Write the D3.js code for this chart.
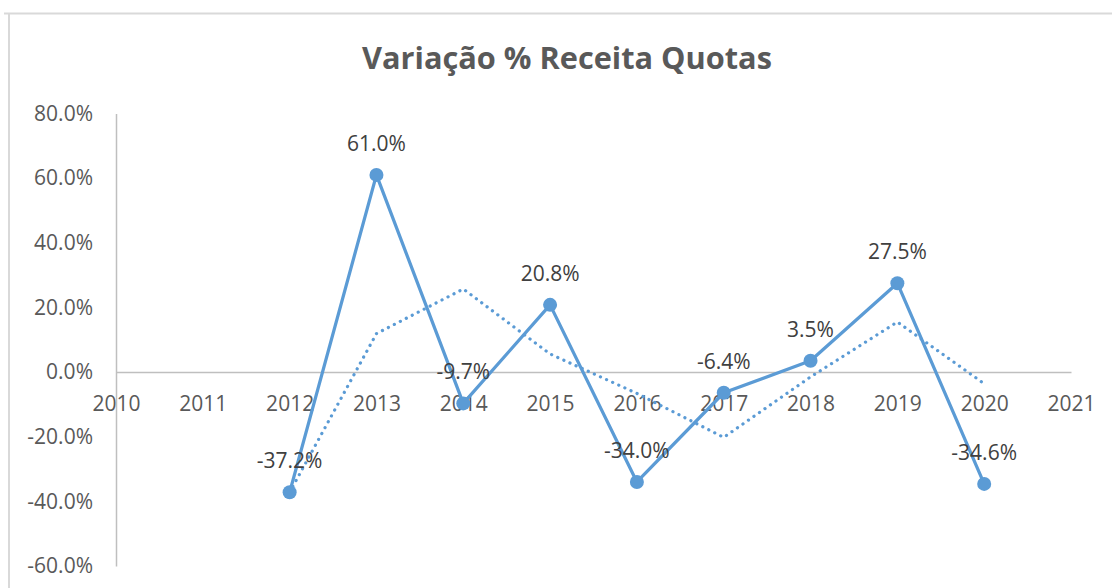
<!DOCTYPE html>
<html>
<head>
<meta charset="utf-8">
<script src="https://cdn.jsdelivr.net/npm/d3@7"></script>
<style>
  html, body { margin: 0; padding: 0; background: #fff; }
  svg { display: block; font-family: "Open Sans", sans-serif; }
</style>
</head>
<body>
<svg id="chart" width="1112" height="588"></svg>
<script>
// values
var years = [2012, 2013, 2014, 2015, 2016, 2017, 2018, 2019, 2020];
var variacao = [-37.2, 61.0, -9.7, 20.8, -34.0, -6.4, 3.5, 27.5, -34.6];
// dotted moving average line (2 periods)
var mediaYears = [2012, 2013, 2014, 2015, 2016, 2017, 2018, 2019, 2020];
var mediaMovel = [-37.2, 11.9, 25.7, 5.6, -6.6, -20.2, -1.5, 15.5, -3.6];
var yTicks = [80, 60, 40, 20, 0, -20, -40, -60];
var xTicks = [2010, 2011, 2012, 2013, 2014, 2015, 2016, 2017, 2018, 2019, 2020, 2021];

var svg = d3.select('#chart');
var blue = '#5b9bd5';

// chart area border (cut at right and bottom)
svg.append('path')
    .attr('d', 'M4,13.5H1112M9,13.5V588')
    .attr('fill', 'none')
    .attr('stroke', '#d9d9d9')
    .attr('stroke-width', 2);

var title = svg.append('text')
    .attr('x', 567).attr('y', 69)
    .attr('text-anchor', 'middle')
    .attr('fill', '#595959')
    .attr('font-weight', 'bold')
    .attr('font-size', 28)
    .text('Variação % Receita Quotas');
// fit the title to the width seen in the picture
var tw = title.node().getComputedTextLength();
title.attr('font-size', 28 * 410 / tw);

var x = d3.scaleLinear().domain([2010, 2021]).range([116, 1071]);
var y = d3.scaleLinear().domain([-60, 80]).range([566, 113.5]);

// axes
var yAxis = svg.append('g')
    .attr('transform', 'translate(116,0)')
    .call(d3.axisLeft(y).tickValues(yTicks).tickSize(0).tickPadding(23)
        .tickFormat(function(d){ return d.toFixed(1) + '%'; }));
yAxis.select('.domain').attr('stroke', '#bfbfbf').attr('stroke-width', 1.5);
yAxis.selectAll('text').attr('font-size', 21).attr('fill', '#595959')
    .attr('font-family', '"Open Sans", sans-serif');

var xAxis = svg.append('g')
    .attr('transform', 'translate(0,' + y(0) + ')')
    .call(d3.axisBottom(x).tickValues(xTicks).tickSize(0).tickPadding(24)
        .tickFormat(d3.format('d')));
xAxis.select('.domain').attr('stroke', '#bfbfbf').attr('stroke-width', 1.5);
xAxis.selectAll('text').attr('font-size', 21).attr('fill', '#595959')
    .attr('font-family', '"Open Sans", sans-serif');

// trend line
var trend = mediaYears.map(function(d, i){ return [d, mediaMovel[i]]; });
svg.append('path')
    .datum(trend)
    .attr('fill', 'none')
    .attr('stroke', blue)
    .attr('stroke-width', 3.2)
    .attr('stroke-linecap', 'round')
    .attr('stroke-dasharray', '0.1 6.6')
    .attr('d', d3.line().x(function(d){ return x(d[0]); }).y(function(d){ return y(d[1]); }));

// series
var pts = years.map(function(d, i){ return [d, variacao[i]]; });
svg.append('path')
    .datum(pts)
    .attr('fill', 'none')
    .attr('stroke', blue)
    .attr('stroke-width', 3.25)
    .attr('stroke-linejoin', 'round')
    .attr('d', d3.line().x(function(d){ return x(d[0]); }).y(function(d){ return y(d[1]); }));

svg.selectAll('.marker')
    .data(pts)
    .enter().append('circle')
    .attr('class', 'marker')
    .attr('cx', function(d){ return x(d[0]); })
    .attr('cy', function(d){ return y(d[1]); })
    .attr('r', 7)
    .attr('fill', blue);

svg.selectAll('.rotulo')
    .data(pts)
    .enter().append('text')
    .attr('class', 'rotulo')
    .attr('x', function(d){ return x(d[0]); })
    .attr('y', function(d){ return y(d[1]) - 24; })
    .attr('text-anchor', 'middle')
    .attr('font-size', 21)
    .attr('fill', '#404040')
    .text(function(d){ return d[1].toFixed(1) + '%'; });
</script>
</body>
</html>
